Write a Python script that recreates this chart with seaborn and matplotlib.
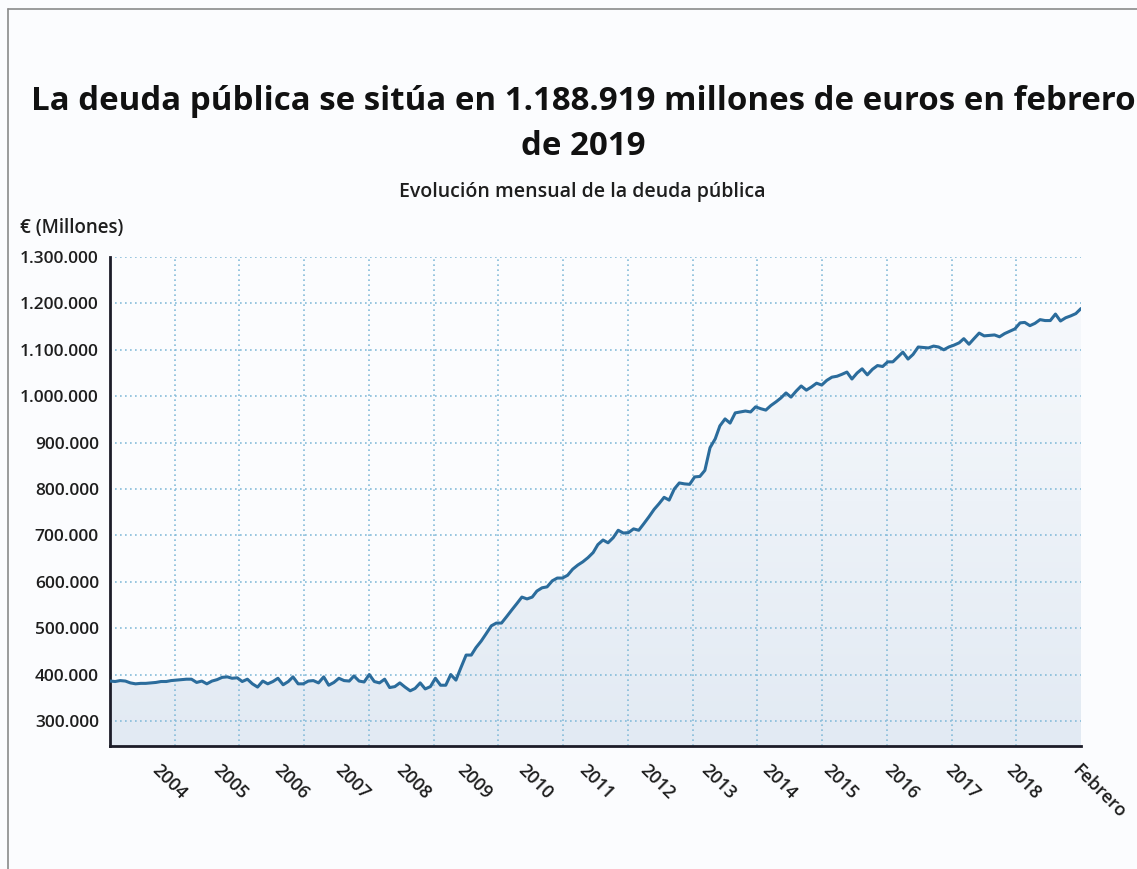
import matplotlib
matplotlib.use("Agg")
import matplotlib.pyplot as plt
import matplotlib.dates as mdates
from matplotlib.colors import LinearSegmentedColormap
from matplotlib.lines import Line2D
import numpy as np
import pandas as pd
import seaborn as sns

# ---- data (thousands of millions of euros), monthly Mar 2003 -> Feb 2019 ----
debt_2003_2008 = [386, 385, 387, 386, 382, 380, 381, 381, 382, 383,
                  385, 385, 387, 388, 389, 390, 390, 383, 386, 380, 386, 389,
                  394, 395, 392, 393, 385, 390, 380, 373, 386, 380, 385, 392,
                  378, 385, 395, 380, 380, 386, 387, 382, 395, 377, 383, 392,
                  387, 386, 397, 386, 384, 400, 385, 382, 390, 372, 374, 382,
                  373, 365, 370, 382, 369, 374, 392, 377, 377, 400, 388, 415]
debt_2009_2013 = [442, 442, 458, 472,
                  488, 505, 511, 511, 525, 539, 553, 567, 563, 567,
                  580, 587, 589, 602, 608, 608, 614, 627, 636, 643,
                  652, 663, 680, 690, 684, 695, 711, 705, 706, 714,
                  711, 725, 740, 756, 768, 782, 776, 800, 813, 811,
                  810, 826, 827, 840, 889, 908, 936, 951, 942, 964]
debt_2014_2019 = [966, 968, 966, 977, 973, 970, 980, 988, 996, 1007,
                  998, 1011, 1022, 1013, 1020, 1028, 1024, 1034, 1041, 1043,
                  1047, 1052, 1037, 1050, 1059, 1046, 1058, 1066, 1064, 1074,
                  1074, 1085, 1095, 1080, 1090, 1106, 1105, 1104, 1108, 1106,
                  1100, 1106, 1110, 1115, 1124, 1112, 1124, 1136, 1130, 1131,
                  1132, 1128, 1135, 1140, 1145, 1158, 1159, 1152, 1157, 1165,
                  1163, 1163, 1177, 1162, 1169, 1173, 1178, 1188.919]
start_month = "2003-03-01"
tick_years = [2004, 2005, 2006, 2007, 2008, 2009, 2010, 2011, 2012,
              2013, 2014, 2015, 2016, 2017, 2018]
last_label = "Febrero"
y_ticks = [300000, 400000, 500000, 600000, 700000, 800000, 900000,
           1000000, 1100000, 1200000, 1300000]

title = "La deuda pública se sitúa en 1.188.919 millones de euros en febrero\nde 2019"
subtitle = "Evolución mensual de la deuda pública"
unit_label = "€ (Millones)"

debt = [v * 1000 for v in debt_2003_2008 + debt_2009_2013 + debt_2014_2019]
dates = pd.date_range(start_month, periods=len(debt), freq="MS")
df = pd.DataFrame({"fecha": dates, "deuda": debt})

# ---- style ----
sns.set_style("white")
plt.rcParams["font.family"] = ["Open Sans", "DejaVu Sans"]

BG = "#fbfcfe"
LINE = "#2b6c9c"
GRID = "#86bcd9"
DARK = "#1c1c28"
TXT = "#1e1e1e"

W, H = 1137, 869
fig = plt.figure(figsize=(W / 100, H / 100), dpi=100, facecolor=BG)
ax = fig.add_axes([110 / W, 1 - 746 / H, 971 / W, 489 / H])
ax.set_facecolor(BG)

ymin, ymax = 246000, 1300000
x0, x1 = mdates.date2num(dates[0]), mdates.date2num(dates[-1])

# gradient area fill clipped under the line
poly = ax.fill_between(df["fecha"], df["deuda"], ymin, color="none", lw=0)
cmap = LinearSegmentedColormap.from_list("g", ["#f8fafd", "#e2eaf3"])
grad = np.linspace(0, 1, 256).reshape(-1, 1)
im = ax.imshow(grad, extent=[x0, x1, ymin, ymax], origin="upper",
               aspect="auto", cmap=cmap, zorder=1)
im.set_clip_path(poly.get_paths()[0], transform=ax.transData)

sns.lineplot(data=df, x="fecha", y="deuda", color=LINE, lw=2.2, ax=ax, zorder=3)

ax.set_xlim(dates[0], dates[-1])
ax.set_ylim(ymin, ymax)
ax.set_xlabel("")
ax.set_ylabel("")

# y axis
ax.set_yticks(y_ticks)
ax.set_yticklabels([f"{v:,.0f}".replace(",", ".") for v in y_ticks])

# x axis
tick_dates = [pd.Timestamp(f"{y}-01-01") for y in tick_years] + [dates[-1]]
tick_labels = [str(y) for y in tick_years] + [last_label]
ax.set_xticks(tick_dates)
ax.set_xticklabels(tick_labels)
for lbl in ax.get_xticklabels():
    lbl.set_rotation(-45)
    lbl.set_ha("left")
    lbl.set_va("top")
    lbl.set_rotation_mode("anchor")

# vertical grid: equal divisions of the x range
minor = np.linspace(x0, x1, 16)[1:]
ax.set_xticks(minor, minor=True)
ax.tick_params(axis="x", which="minor", length=0)
ax.set_axisbelow("line")
ax.yaxis.grid(True, which="major", ls=(0, (1, 2)), color=GRID, lw=1.2)
ax.xaxis.grid(True, which="minor", ls=(0, (1, 2)), color=GRID, lw=1.2)
ax.xaxis.grid(False, which="major")

for s in ["top", "right"]:
    ax.spines[s].set_visible(False)
for s in ["left", "bottom"]:
    ax.spines[s].set_color(DARK)
    ax.spines[s].set_linewidth(2)

ax.tick_params(axis="both", which="major", length=4, width=1.5, color=DARK,
               direction="out", labelsize=12.5, labelcolor=TXT)
ax.tick_params(axis="y", pad=4)
ax.tick_params(axis="x", pad=7, labelsize=13)
for lbl in ax.get_yticklabels() + ax.get_xticklabels():
    lbl.set_fontweight("semibold")

# texts
fig.text(583 / W, 1 - 124 / H, title, ha="center", va="center", fontsize=23.8,
         fontweight="bold", color="#111111", linespacing=1.45)
fig.text(582 / W, 1 - 192 / H, subtitle, ha="center", va="center",
         fontsize=14, fontweight="semibold", color=TXT)
fig.text(20 / W, 1 - 228 / H, unit_label, ha="left", va="center",
         fontsize=13.5, fontweight="semibold", color=TXT)

# frame lines of the original screenshot
fig.add_artist(Line2D([8 / W, 1], [1 - 9 / H, 1 - 9 / H], color="#8a8a8a", lw=1.2))
fig.add_artist(Line2D([8 / W, 8 / W], [0, 1 - 9 / H], color="#8a8a8a", lw=1.2))

fig.savefig("out.png", dpi=100, facecolor=BG)
